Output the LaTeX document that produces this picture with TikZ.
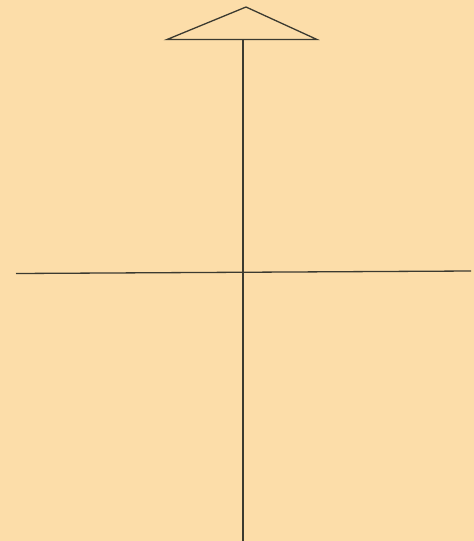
\documentclass[tikz,border=0pt]{standalone}
\usepackage{xcolor}
\usepackage{tikz}
\definecolor{figPaper}{HTML}{FCDDA9}
\definecolor{figInk}{HTML}{3B3A30}

\begin{document}
\begin{tikzpicture}[
  x=1pt, y=-1pt,
  ink/.style={draw=figInk, line width=1.3pt},
]
% Paper background
\fill[figPaper] (0,0) rectangle (474,541);
\useasboundingbox (0,0) rectangle (474,541);

% Key points
\coordinate (apex) at (246,7);
\coordinate (base-l) at (167,39.5);
\coordinate (base-r) at (317,39.5);
\coordinate (stem-top) at (243,39.5);
\coordinate (stem-bot) at (243,541);
\coordinate (axis-l) at (16,273.5);
\coordinate (axis-r) at (471,271);

% Triangle and axes
\draw[ink, line join=miter] (base-l) -- (apex) -- (base-r) -- cycle;
\draw[ink] (stem-top) -- (stem-bot);
\draw[ink] (axis-l) -- (axis-r);
\end{tikzpicture}
\end{document}
